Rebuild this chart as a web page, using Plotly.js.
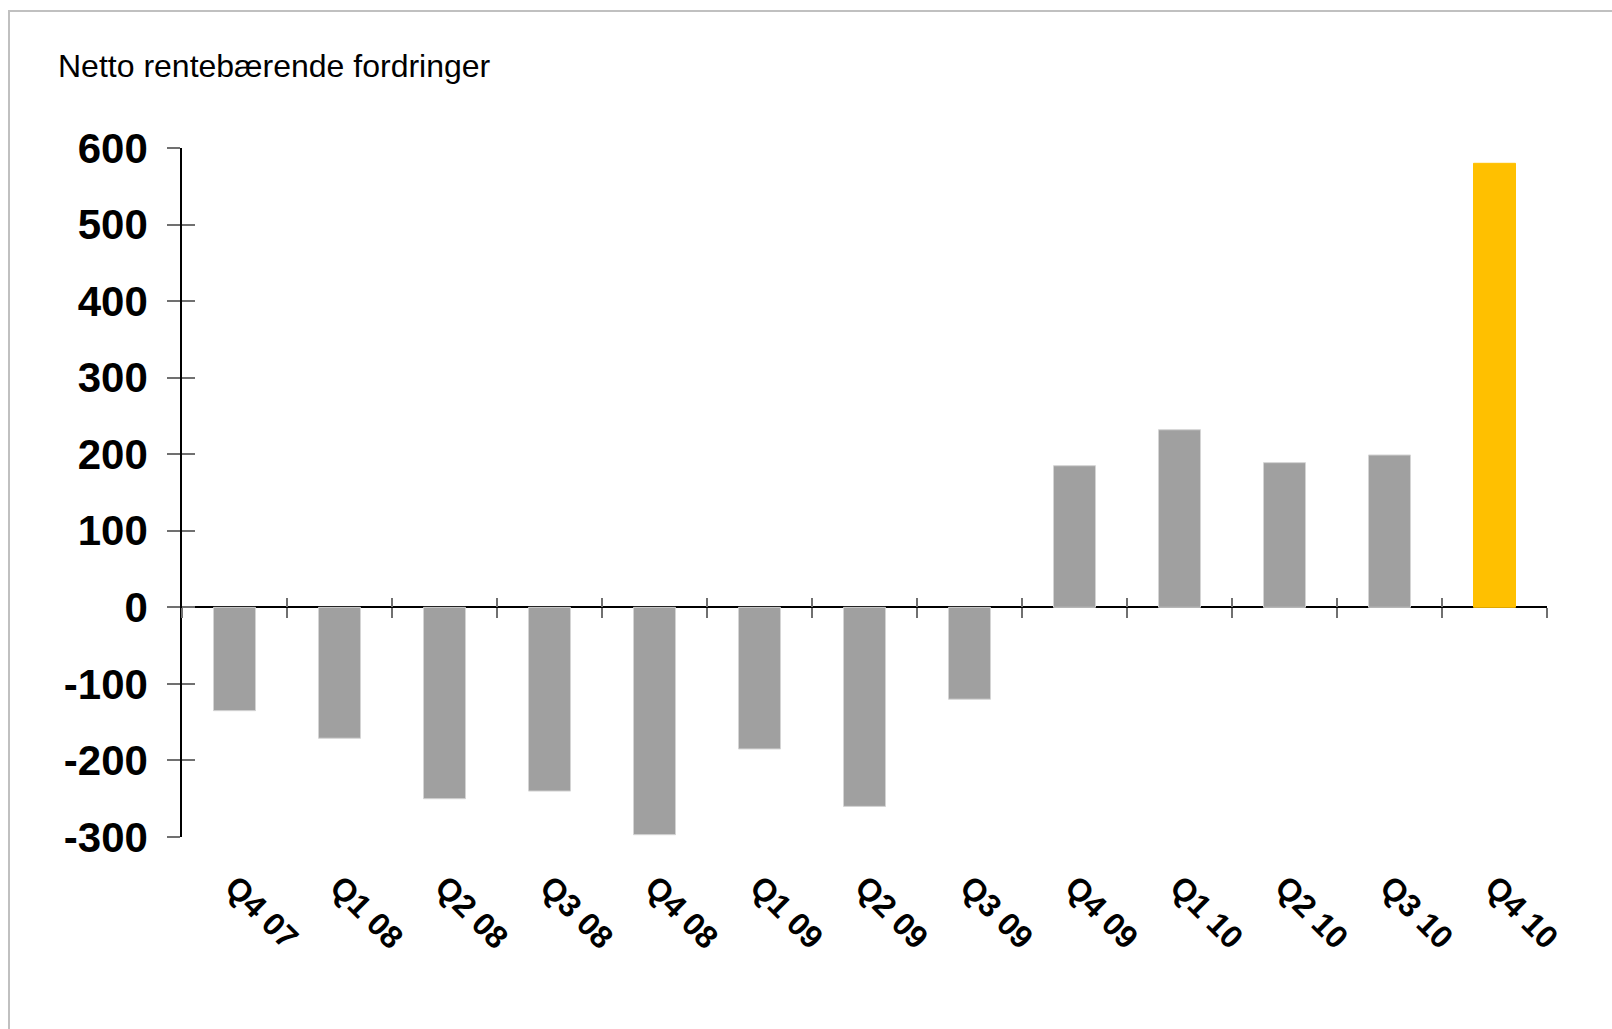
<!DOCTYPE html>
<html>
<head>
<meta charset="utf-8">
<script src="https://cdn.plot.ly/plotly-3.0.1.min.js"></script>
<style>
  html, body { margin: 0; padding: 0; background: #ffffff; }
  #wrap { position: relative; width: 1612px; height: 1029px; overflow: hidden; }
  #chart { position: absolute; left: 0; top: 0; width: 1612px; height: 1029px; }
  #frame { position: absolute; left: 8px; top: 10px; right: -10px; bottom: -10px;
           border-top: 2px solid #c0c0c0; border-left: 2px solid #c0c0c0; pointer-events: none; }
</style>
</head>
<body>
<div id="wrap">
  <div id="chart"></div>
  <div id="frame"></div>
</div>
<script>
// ---- data ----
const chartTitle = "Netto rentebærende fordringer";
const quarters = ["Q4 07", "Q1 08", "Q2 08", "Q3 08", "Q4 08", "Q1 09", "Q2 09",
                  "Q3 09", "Q4 09", "Q1 10", "Q2 10", "Q3 10", "Q4 10"];
const values = [-135, -171, -250, -240, -297, -185, -260, -120, 185, 232, 189, 199, 580];
const highlightQuarter = "Q4 10";
const yTickValues = [-300, -200, -100, 0, 100, 200, 300, 400, 500, 600];
const yMin = -300;
const yMax = 600;

// ---- styles ----
const grey = "#a0a0a0";
const gold = "#ffc000";
const barColors = quarters.map(q => q === highlightQuarter ? gold : grey);
const barLines = quarters.map(q => q === highlightQuarter ? gold : "#d4d4d4");
const fontFam = "Liberation Sans, Arial, Helvetica, sans-serif";
const xRange = [-0.5, quarters.length - 0.5];
const zeroPos = (0 - yMin) / (yMax - yMin);

const traces = [
  {
    type: "bar",
    x: quarters,
    y: values,
    marker: { color: barColors, line: { color: barLines, width: 1 } },
    hoverinfo: "x+y",
    showlegend: false
  },
  {
    type: "scatter",
    mode: "markers",
    x: quarters,
    y: values,
    xaxis: "x2",
    yaxis: "y2",
    marker: { opacity: 0 },
    hoverinfo: "skip",
    showlegend: false
  },
  {
    type: "scatter",
    mode: "markers",
    x: quarters,
    y: values,
    xaxis: "x3",
    yaxis: "y",
    marker: { opacity: 0 },
    hoverinfo: "skip",
    showlegend: false
  }
];

const layout = {
  width: 1612,
  height: 1029,
  margin: { l: 182, r: 65, t: 148, b: 192, pad: 0 },
  paper_bgcolor: "#ffffff",
  plot_bgcolor: "rgba(0,0,0,0)",
  bargap: 0.6,
  showlegend: false,
  font: { family: fontFam, color: "#000000" },
  title: {
    text: chartTitle,
    font: { family: fontFam, size: 32, color: "#000000" },
    xref: "container", yref: "container",
    x: 58 / 1612, xanchor: "left",
    y: 1 - 66 / 1029, yanchor: "middle"
  },
  xaxis: {
    type: "category",
    categoryorder: "array",
    categoryarray: quarters,
    range: xRange,
    showline: false,
    showgrid: false,
    zeroline: false,
    ticks: "",
    tickangle: 45,
    ticklabelstandoff: 24,
    tickfont: { family: fontFam, size: 32, color: "#000000", weight: "bold" },
    fixedrange: true
  },
  xaxis2: {
    type: "category",
    categoryorder: "array",
    categoryarray: quarters,
    overlaying: "x",
    anchor: "free",
    position: zeroPos,
    range: xRange,
    tickson: "boundaries",
    ticks: "outside",
    ticklen: 10,
    tickwidth: 1.5,
    tickcolor: "#707070",
    showticklabels: false,
    showline: false,
    showgrid: false,
    zeroline: false,
    fixedrange: true
  },
  xaxis3: {
    type: "category",
    categoryorder: "array",
    categoryarray: quarters,
    overlaying: "x",
    anchor: "free",
    position: zeroPos,
    range: xRange,
    tickson: "boundaries",
    ticks: "inside",
    ticklen: 9,
    tickwidth: 1.5,
    tickcolor: "#707070",
    showticklabels: false,
    showline: false,
    showgrid: false,
    zeroline: false,
    fixedrange: true
  },
  yaxis: {
    range: [yMin, yMax],
    tickmode: "array",
    tickvals: yTickValues,
    ticktext: yTickValues.map(String),
    ticks: "outside",
    ticklen: 13,
    tickwidth: 1.5,
    tickcolor: "#707070",
    ticklabelstandoff: 11,
    showline: true,
    linecolor: "#000000",
    linewidth: 1.5,
    showgrid: false,
    zeroline: true,
    zerolinecolor: "#000000",
    zerolinewidth: 1.5,
    tickfont: { family: fontFam, size: 42, color: "#000000", weight: "bold" },
    fixedrange: true
  },
  yaxis2: {
    overlaying: "y",
    anchor: "x",
    range: [yMin, yMax],
    tickmode: "array",
    tickvals: yTickValues,
    ticks: "inside",
    ticklen: 13,
    tickwidth: 1.5,
    tickcolor: "#707070",
    showticklabels: false,
    showline: false,
    showgrid: false,
    zeroline: false,
    fixedrange: true
  }
};

Plotly.newPlot("chart", traces, layout, { displayModeBar: false, staticPlot: false });
</script>
</body>
</html>
